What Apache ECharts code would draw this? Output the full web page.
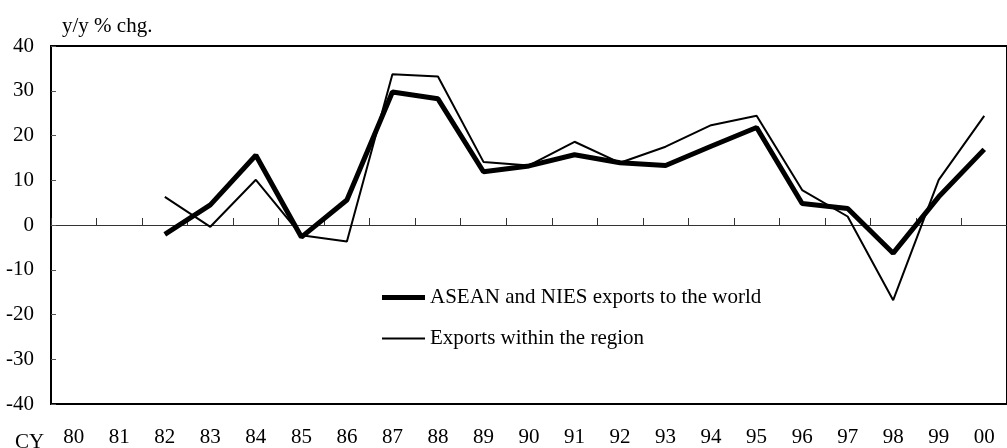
<!DOCTYPE html>
<html>

<head>
    <meta charset="utf-8">
    <title>ASEAN and NIES exports</title>
    <style>
        html, body { margin: 0; padding: 0; background: #fff; }
    </style>
</head>

<body>
    <div id="main" style="width: 1007px;height:448px;"></div>

    <script src="https://cdn.jsdelivr.net/npm/echarts@6/dist/echarts.min.js"></script>
    <script>
        // calendar years
        var years = ['80', '81', '82', '83', '84', '85', '86', '87', '88', '89', '90',
            '91', '92', '93', '94', '95', '96', '97', '98', '99', '00'];
        // y/y % chg.
        var worldExports = [null, null, -2.1, 4.5, 15.6, -2.7, 5.6, 29.7, 28.2, 11.9, 13.2,
            15.7, 13.9, 13.3, 17.6, 21.8, 4.8, 3.7, -6.3, 6.3, 16.9];
        var regionExports = [null, null, 6.3, -0.4, 10.1, -2.3, -3.7, 33.7, 33.2, 14.1, 13.3,
            18.6, 13.9, 17.5, 22.3, 24.4, 7.8, 1.9, -16.8, 10.1, 24.4];
        var seriesNames = ['ASEAN and NIES exports to the world', 'Exports within the region'];

        var font = '"Liberation Serif", "Times New Roman", serif';

        var myChart = echarts.init(document.getElementById('main'));

        var option = {
            backgroundColor: '#fff',
            animation: false,
            grid: {
                left: 51,
                top: 46,
                width: 966,
                height: 358,
                show: true,
                borderColor: '#000',
                borderWidth: 2
            },
            legend: {
                // plain line keys, thick and thin
                data: [
                    { name: seriesNames[0], icon: 'path://M0,0H43V5H0Z' },
                    { name: seriesNames[1], icon: 'path://M0,0H43V2H0Z' }
                ],
                orient: 'vertical',
                left: 382,
                top: 287,
                padding: 0,
                itemWidth: 43,
                itemHeight: 14,
                itemGap: 20,
                symbolKeepAspect: true,
                itemStyle: { color: '#000', borderWidth: 0 },
                textStyle: { fontFamily: font, fontSize: 21, color: '#000', lineHeight: 20 }
            },
            graphic: [
                { type: 'text', left: 62, top: 16, style: { text: 'y/y % chg.', font: '21px ' + font, fill: '#000' } },
                { type: 'text', left: 15, top: 432, style: { text: 'CY', font: '21px ' + font, fill: '#000' } }
            ],
            xAxis: [{
                type: 'category',
                data: years,
                position: 'bottom',
                boundaryGap: true,
                axisLine: { show: false, onZero: false },
                axisTick: { show: false },
                axisLabel: { margin: 23, fontFamily: font, fontSize: 21, color: '#000' }
            }, {
                // zero line with year ticks
                type: 'category',
                data: years,
                position: 'top',
                boundaryGap: true,
                axisLine: { show: true, onZero: true, lineStyle: { color: '#333', width: 1 } },
                axisTick: { show: true, inside: false, length: 7, lineStyle: { color: '#333', width: 1 } },
                axisLabel: { show: false }
            }],
            yAxis: {
                type: 'value',
                min: -40,
                max: 40,
                interval: 10,
                axisLine: { show: false },
                axisTick: { show: true, inside: true, length: 5, lineStyle: { color: '#555' } },
                splitLine: { show: false },
                axisLabel: { margin: 17, fontFamily: font, fontSize: 21, color: '#000' }
            },
            series: [{
                name: seriesNames[1],
                type: 'line',
                data: regionExports,
                symbol: 'none',
                showSymbol: false,
                lineStyle: { color: '#000', width: 2 },
                itemStyle: { color: '#000' }
            }, {
                name: seriesNames[0],
                type: 'line',
                data: worldExports,
                symbol: 'none',
                showSymbol: false,
                lineStyle: { color: '#000', width: 5 },
                itemStyle: { color: '#000' }
            }]
        };

        myChart.setOption(option);
    </script>
</body>

</html>
